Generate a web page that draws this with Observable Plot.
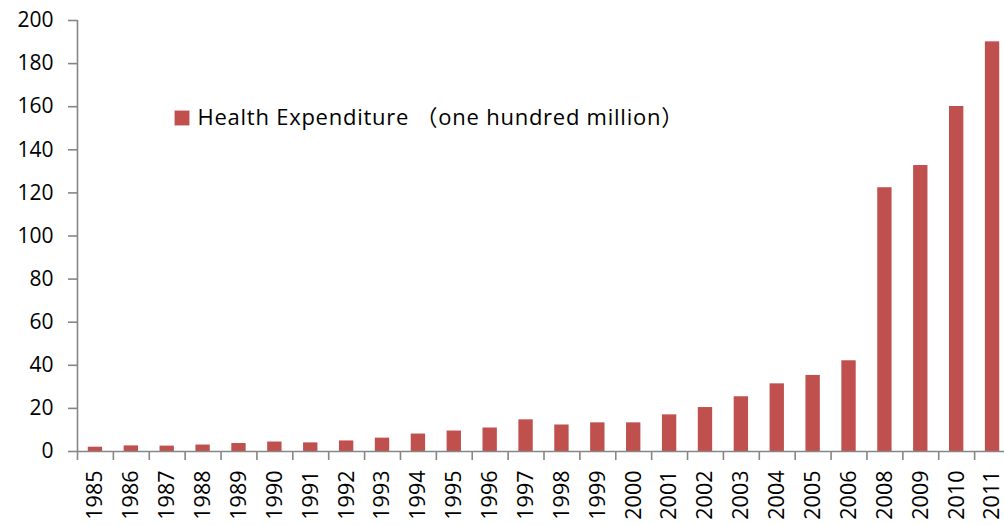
<!DOCTYPE html>
<html>
<head>
<meta charset="utf-8">
<script src="https://cdn.jsdelivr.net/npm/d3@7"></script>
<script src="https://cdn.jsdelivr.net/npm/@observablehq/plot@0.6"></script>
<style>
  html, body { margin: 0; padding: 0; background: #fff; overflow: hidden; }
  #chart { width: 1004px; height: 525px; }
  .legend-text text { letter-spacing: 0.75px; }
</style>
</head>
<body>
<div id="chart"></div>
<script>
const years = ["1985","1986","1987","1988","1989","1990","1991","1992","1993","1994","1995","1996","1997","1998","1999","2000","2001","2002","2003","2004","2005","2006","2008","2009","2010","2011"];
const values = [2.0,2.6,2.5,3.0,3.7,4.4,4.0,4.9,6.2,8.1,9.5,10.9,14.7,12.3,13.3,13.3,17.0,20.4,25.4,31.4,35.3,42.1,122.4,132.7,160.1,190.1];
const yTicks = [0,20,40,60,80,100,120,140,160,180,200];
const legendLabel = "Health Expenditure \uFF08one hundred million\uFF09";

const data = years.map((year, i) => ({year, value: values[i]}));

const W = 1004, H = 525, ML = 77, MR = -6, MT = 20, MB = 74;
const step = (W - MR - ML) / years.length;
const barColor = "#C0504D";
const axisColor = "#868686";
const font = "'Open Sans', 'Noto Sans CJK SC', sans-serif";

const chart = Plot.plot({
  width: W, height: H,
  marginLeft: ML, marginRight: MR, marginTop: MT, marginBottom: MB,
  style: {fontFamily: font, fontSize: "20px", color: "#000", background: "#fff", overflow: "visible"},
  x: {domain: years, padding: 0, round: false, axis: null, label: null},
  y: {domain: [0, 200], axis: null, label: null},
  marks: [
    Plot.barY(data, {x: "year", y: "value", fill: barColor, insetLeft: step * 0.3, insetRight: step * 0.3}),
    Plot.ruleY([0], {stroke: axisColor, strokeWidth: 1.6}),
    Plot.ruleX([years[0]], {y1: 0, y2: 200, dx: -step / 2, stroke: axisColor, strokeWidth: 1.6}),
    Plot.axisY({ticks: yTicks, tickSize: 9, tickPadding: 15, stroke: axisColor, strokeWidth: 1.6, fill: "#000", fontSize: 21, label: null}),
    Plot.axisX({tickSize: 9, text: null, dx: -step / 2, stroke: axisColor, strokeWidth: 1.6, label: null}),
    Plot.axisX({tickSize: 0, tickPadding: 19, tickRotate: -90, fill: "#000", fontSize: 21.5, label: null}),
    Plot.dot([legendLabel], {frameAnchor: "top-left", dx: 181.5 - ML, dy: 117.5 - MT, symbol: "square", r: 8.4, fill: barColor, stroke: null}),
    Plot.text([legendLabel], {frameAnchor: "top-left", text: d => d, dx: 197 - ML, dy: 117.5 - MT, textAnchor: "start", lineAnchor: "middle", fontSize: 22, fill: "#000", className: "legend-text"})
  ]
});
document.getElementById("chart").appendChild(chart);
</script>
</body>
</html>
